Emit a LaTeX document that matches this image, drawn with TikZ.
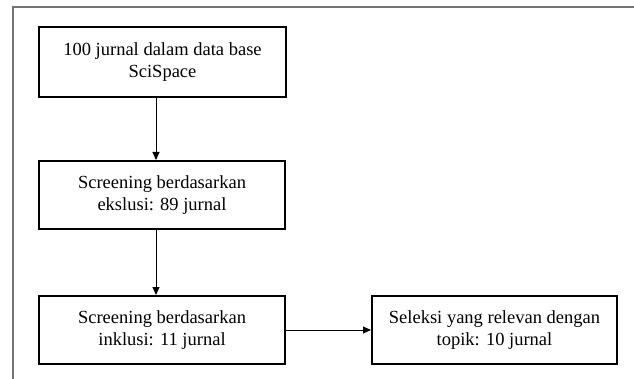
\documentclass[tikz,border=0pt]{standalone}
\usepackage{fontspec}
\setmainfont{Liberation Serif}
\usetikzlibrary{arrows.meta}
\begin{document}
\begin{tikzpicture}[x=1pt,y=-1pt,
  box/.style={draw=black,line width=2pt,align=center,inner sep=0pt,
    font=\fontsize{18.5}{22}\selectfont,minimum height=68pt,minimum width=246pt},
  conn/.style={line width=0.9pt,-{Triangle[length=8pt,width=7pt]}},
  frame/.style={draw=black!55,line width=1.6pt}]
\useasboundingbox (0,0) rectangle (634,379);
\coordinate (fr1) at (12.7,379);
\coordinate (fr2) at (12.7,7);
\coordinate (fr3) at (634,7);
\draw[frame] (fr1) -- (fr2) -- (fr3);
\node[box,minimum height=70pt,minimum width=247pt] (b1) at (162.5,62) {100 jurnal dalam data base\\SciSpace};
\node[box] (b2) at (162,195) {Screening berdasarkan\\ekslusi: 89 jurnal};
\node[box] (b3) at (162,330) {Screening berdasarkan\\inklusi: 11 jurnal};
\node[box,minimum width=245pt] (b4) at (494.5,330) {Seleksi yang relevan dengan\\topik: 10 jurnal};
\draw[conn] ([xshift=-6.5pt]b1.south) -- ([xshift=-6pt]b2.north);
\draw[conn] ([xshift=-6pt]b2.south) -- ([xshift=-6pt]b3.north);
\draw[conn] (b3.east) -- (b4.west);
\end{tikzpicture}
\end{document}
